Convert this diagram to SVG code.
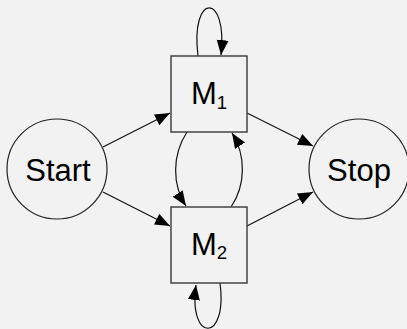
<svg xmlns="http://www.w3.org/2000/svg" width="407" height="329" viewBox="0 0 407 329">
  <style>
    .bg { fill: #f2f2f2; }
    .state { fill: #f2f2f2; stroke: #222; stroke-width: 1.2; }
    .box { fill: #f2f2f2; stroke: #444; stroke-width: 1.5; }
    .label { font-family: "Liberation Sans", Arial, sans-serif; font-size: 31px; fill: #000; text-anchor: middle; }
    .sub { font-size: 18.6px; }
    .edge { fill: none; stroke: #111; stroke-width: 1.2; marker-end: url(#arrow); }
  </style>
  <defs>
    <marker id="arrow" markerUnits="userSpaceOnUse" markerWidth="16" markerHeight="13" refX="15" refY="6" orient="auto">
      <path d="M0,0 L15,6 L0,12 z" fill="#000"/>
    </marker>
  </defs>
  <rect class="bg" x="0" y="0" width="407" height="329"/>
  <g id="connectors">
    <path class="edge" d="M103,147 L170,113"/>
    <path class="edge" d="M103,192 L170,226"/>
    <path class="edge" d="M247,113 L313,146"/>
    <path class="edge" d="M247,226 L313,192"/>
    <path class="edge" d="M187,132 C172,155 172,185 186,206"/>
    <path class="edge" d="M231,207 C246,185 246,155 232,133"/>
    <path class="edge" d="M198,56 C190,-8 228,-8 221,55"/>
    <path class="edge" d="M220,283 C228,343 188,343 196,285"/>
  </g>
  <g id="start">
    <circle class="state" cx="57" cy="169" r="50"/>
    <text class="label" x="58" y="181">Start</text>
  </g>
  <g id="stop">
    <circle class="state" cx="359" cy="169" r="50"/>
    <text class="label" x="359" y="181">Stop</text>
  </g>
  <g id="m1">
    <rect class="box" x="171" y="56" width="76" height="76"/>
    <text class="label" x="209" y="104">M<tspan class="sub" dy="5">1</tspan></text>
  </g>
  <g id="m2">
    <rect class="box" x="171" y="207" width="76" height="76"/>
    <text class="label" x="209" y="255">M<tspan class="sub" dy="4">2</tspan></text>
  </g>
</svg>
